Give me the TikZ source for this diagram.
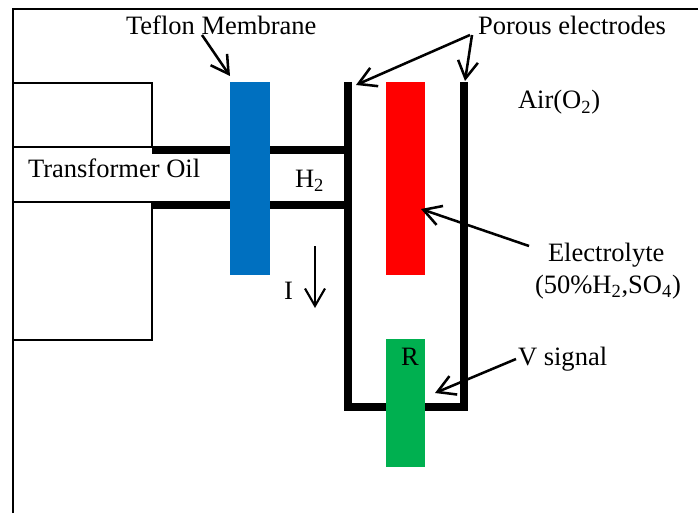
\documentclass[tikz,border=0pt]{standalone}
\usepackage{fontspec}
\setmainfont{Liberation Serif}
\usetikzlibrary{arrows.meta}
\definecolor{teflonblue}{HTML}{0070C0}
\definecolor{resgreen}{HTML}{00B050}
\tikzset{
  thinline/.style={draw=black,line width=1.5pt,line cap=butt,line join=miter},
  wall/.style={draw=black,line width=6pt,line cap=butt,line join=miter},
  bar/.style={draw=none,inner sep=0pt,outer sep=0pt,minimum width=30pt},
  txt/.style={anchor=base west,inner sep=0pt,outer sep=0pt,font=\fontsize{19.9pt}{22pt}\selectfont},
  ptr/.style={draw=black,line width=1.9pt,-{Straight Barb[length=13pt,width=15pt,line width=1.9pt]}},
  ptrthin/.style={draw=black,line width=1.4pt,-{Straight Barb[length=13pt,width=15pt,line width=1.6pt]}}
}
\begin{document}
\begin{tikzpicture}[x=0.75pt,y=-0.75pt]
\useasboundingbox[fill=white] (0,0) rectangle (698,513);
% frame
\coordinate (frameBL) at (13,513);
\coordinate (frameTL) at (13,9);
\coordinate (frameTR) at (698,9);
\draw[thinline] (frameBL) -- (frameTL) -- (frameTR);
% oil tank
\coordinate (tankA) at (13,83);
\coordinate (tankB) at (152,83);
\coordinate (tankC) at (152,147);
\coordinate (tankD) at (13,147);
\coordinate (tankE) at (231,147);
\coordinate (tankF) at (231,202);
\coordinate (tankG) at (13,202);
\coordinate (tankH) at (152,202);
\coordinate (tankI) at (152,340);
\coordinate (tankJ) at (13,340);
\draw[thinline] (tankA) -- (tankB) -- (tankC) -- (tankD);
\draw[thinline] (tankC) -- (tankE) -- (tankF) -- (tankG);
\draw[thinline] (tankH) -- (tankI) -- (tankJ);
% hydrogen tubes
\coordinate (tubeAl) at (152,150);
\coordinate (tubeAm) at (231,150);
\coordinate (tubeAn) at (269,150);
\coordinate (tubeAr) at (345,150);
\coordinate (tubeBl) at (152,205);
\coordinate (tubeBm) at (231,205);
\coordinate (tubeBn) at (269,205);
\coordinate (tubeBr) at (345,205);
\draw[wall] (tubeAl) -- (tubeAm);
\draw[wall] (tubeAn) -- (tubeAr);
\draw[wall] (tubeBl) -- (tubeBm);
\draw[wall] (tubeBn) -- (tubeBr);
% cell walls
\coordinate (cellTL) at (348,82);
\coordinate (cellBL) at (348,407);
\coordinate (cellBR) at (464,407);
\coordinate (cellTR) at (464,82);
\draw[wall] (cellTL) -- (cellBL) -- (cellBR) -- (cellTR);
% bars
\node[bar,fill=teflonblue,minimum height=144.75pt] (teflon) at (250,178.5) {};
\node[bar,fill=red,minimum height=144.75pt,minimum width=29.5pt] (electrolyte) at (405.5,178.5) {};
\node[bar,fill=resgreen,minimum height=96pt,minimum width=29.5pt] (resistor) at (405.5,403) {};
% texts
\node[txt] (tTeflon) at (126,35) {Teflon Membrane};
\node[txt] (tPorous) at (478,35) {Porous electrodes};
\node[txt] (tAir) at (518,109) {Air(O\textsubscript{2})};
\node[txt] (tOil) at (28,177) {Transformer Oil};
\node[txt] (tHtwo) at (295,187) {H\textsubscript{2}};
\node[txt] (tI) at (284,299) {I};
\node[txt] (tElec) at (548,261) {Electrolyte};
\node[txt] (tAcid) at (535,293) {(50\%H\textsubscript{2},SO\textsubscript{4})};
\node[txt] (tR) at (401,365) {R};
\node[txt] (tV) at (518,365) {V signal};
% pointers
\coordinate (pTefS) at (202,35);
\coordinate (pTefE) at (230,76);
\coordinate (pPorS) at (470,35);
\coordinate (pPorE) at (356,85);
\coordinate (pPorT) at (472,35);
\coordinate (pPorU) at (465,81);
\coordinate (pElS) at (529,246);
\coordinate (pElE) at (421,209);
\coordinate (pVS) at (516,359);
\coordinate (pVE) at (435,393);
\coordinate (pIS) at (315,246);
\coordinate (pIE) at (315,308);
\draw[ptr] (pTefS) -- (pTefE);
\draw[ptr] (pPorS) -- (pPorE);
\draw[ptr] (pPorT) -- (pPorU);
\draw[ptr] (pElS) -- (pElE);
\draw[ptr] (pVS) -- (pVE);
\draw[ptrthin] (pIS) -- (pIE);
\end{tikzpicture}
\end{document}
